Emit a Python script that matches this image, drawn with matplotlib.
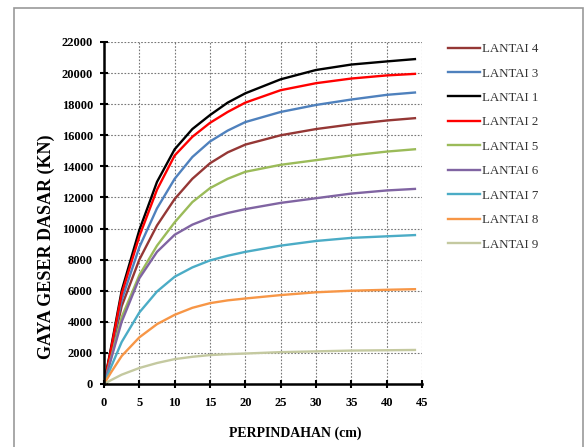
import numpy as np
import matplotlib.pyplot as plt
from matplotlib.patches import Rectangle

plt.rcParams['font.family'] = ['Liberation Serif', 'DejaVu Serif']

x = [0, 1, 2.5, 5, 7.5, 10, 12.5, 15, 17.5, 20, 25, 30, 35, 40, 44]

lantai1 = [0, 2350, 6000, 9900, 13000, 15100, 16400, 17300, 18100, 18700, 19600, 20200, 20550, 20750, 20900]
lantai2 = [0, 2250, 5800, 9500, 12500, 14700, 15900, 16800, 17500, 18100, 18900, 19350, 19650, 19850, 19950]
lantai3 = [0, 2150, 5400, 8800, 11300, 13200, 14600, 15600, 16300, 16850, 17500, 17950, 18300, 18600, 18750]
lantai4 = [0, 2000, 5000, 8000, 10200, 11900, 13200, 14200, 14900, 15400, 16000, 16400, 16700, 16950, 17100]
lantai5 = [0, 1700, 4300, 7000, 8900, 10400, 11700, 12600, 13200, 13650, 14100, 14400, 14700, 14950, 15100]
lantai6 = [0, 1600, 4000, 6800, 8500, 9600, 10250, 10700, 11000, 11250, 11650, 11950, 12250, 12450, 12550]
lantai7 = [0, 1100, 2700, 4600, 5950, 6900, 7500, 7950, 8250, 8500, 8900, 9200, 9400, 9500, 9580]
lantai8 = [0, 750, 1800, 3000, 3850, 4450, 4900, 5200, 5380, 5500, 5720, 5900, 6000, 6060, 6100]
lantai9 = [0, 250, 600, 1030, 1350, 1600, 1750, 1860, 1920, 1960, 2050, 2100, 2150, 2170, 2190]

# legend order as in the original
series = [
    ('LANTAI 4', lantai4, '#953735'),
    ('LANTAI 3', lantai3, '#4F81BD'),
    ('LANTAI 1', lantai1, '#000000'),
    ('LANTAI 2', lantai2, '#FF0000'),
    ('LANTAI 5', lantai5, '#9BBB59'),
    ('LANTAI 6', lantai6, '#8064A2'),
    ('LANTAI 7', lantai7, '#4BACC6'),
    ('LANTAI 8', lantai8, '#F79646'),
    ('LANTAI 9', lantai9, '#C4C9A0'),
]

fig = plt.figure(figsize=(5.84, 4.47), dpi=100)
ax = fig.add_axes([104/584, 1-384/447, (422-104)/584, (384-42)/447])

for name, ys, c in series:
    ax.plot(x, ys, color=c, lw=1.7, label=name)

ax.set_xlim(0, 45)
ax.set_ylim(0, 22000)
ax.set_xticks(np.arange(0, 46, 5))
ax.set_yticks(np.arange(0, 22001, 2000))
ax.grid(True, ls=(0, (1.5, 1.5)), color='#777777', lw=0.8)
for s in ['top', 'right']:
    ax.spines[s].set_visible(False)
for s in ['left', 'bottom']:
    ax.spines[s].set_linewidth(1.8)
ax.tick_params(direction='inout', length=6, width=1.5, labelsize=9)
ax.tick_params(axis='y', pad=5)
ax.tick_params(axis='x', pad=6.5)
for lab in ax.get_xticklabels() + ax.get_yticklabels():
    lab.set_fontweight('bold')

ax.set_xlabel('PERPINDAHAN (cm)', fontsize=10, fontweight='bold')
ax.set_ylabel('GAYA GESER DASAR (KN)', fontsize=13, fontweight='bold')
ax.xaxis.set_label_coords(0.6, -0.125)
ax.yaxis.set_label_coords(-0.154, 0.40)

ax.legend(loc='upper left', bbox_to_anchor=(1.045, 1.031), frameon=False,
          fontsize=9.3, handlelength=2.48, handletextpad=0.15, labelspacing=0.96,
          labelcolor='#333333')

fig.patches.append(Rectangle((14/584, -0.01), (583-14)/584, 1-8/447+0.01,
                             transform=fig.transFigure, fill=False,
                             ec='#999999', lw=1.2))

fig.savefig('out.png', dpi=100)
